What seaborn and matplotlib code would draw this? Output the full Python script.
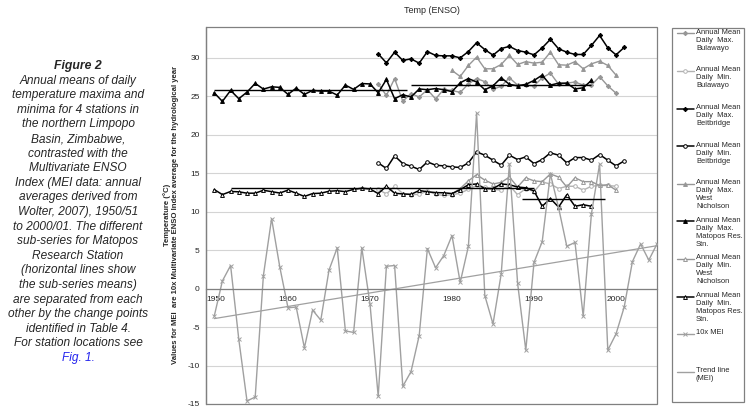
import numpy as np
import pandas as pd
import matplotlib
matplotlib.use("Agg")
import matplotlib.pyplot as plt
from matplotlib.lines import Line2D
from matplotlib.patches import Rectangle
import seaborn as sns

# values
mei_years = list(range(1951, 2006))
mei = [-3.6, 1.0, 3.0, -6.6, -14.6, -14.1, 1.7, 9.1, 2.8, -2.5,
       -2.4, -7.7, -2.8, -4.1, 2.4, 5.3, -5.5, -5.7, 5.3, -2.0,
       -14.0, 2.9, 3.0, -12.7, -10.8, -6.1, 5.2, 2.7, 4.3, 6.9,
       0.8, 5.5, 22.8, -0.9, -4.6, 1.9, 16.2, 0.7, -8.0, 3.4,
       6.1, 14.9, 10.5, 5.5, 6.0, -3.6, 9.7, 16.2, -8.0, -5.9,
       -2.4, 3.5, 5.8, 3.7, 5.8]

matopos_years = list(range(1951, 1998))
matopos_max = [25.45, 24.33, 25.76, 24.68, 25.54, 26.67, 25.93, 26.23, 26.15, 25.24,
               26.06, 25.24, 25.76, 25.67, 25.67, 25.15, 26.45, 25.89, 26.65, 26.6,
               25.45, 27.18, 24.68, 25.2, 24.9, 25.95, 25.85, 26.0, 25.85, 25.6,
               26.75, 27.3, 26.85, 25.85, 26.35, 27.4, 26.55, 26.35, 26.55, 27.05,
               27.75, 26.45, 26.7, 26.7, 25.95, 26.1, 27.05]
matopos_min = [12.87, 12.22, 12.62, 12.58, 12.4, 12.4, 12.78, 12.6, 12.42, 12.8,
               12.4, 11.98, 12.35, 12.4, 12.65, 12.72, 12.6, 12.9, 13.05, 12.95,
               12.35, 13.3, 12.4, 12.3, 12.25, 12.75, 12.58, 12.48, 12.45, 12.35,
               12.85, 13.5, 13.6, 13.0, 13.0, 13.6, 13.5, 13.2, 13.1, 12.7,
               10.7, 11.7, 10.6, 12.2, 10.7, 10.9, 10.7]

beit_years = list(range(1971, 2002))
beit_max = [30.51, 29.34, 30.73, 29.65, 29.86, 29.3, 30.81, 30.3, 30.25, 30.25,
            29.99, 30.81, 31.95, 31.07, 30.34, 31.2, 31.48, 30.94, 30.73, 30.38,
            31.29, 32.4, 31.16, 30.73, 30.43, 30.43, 31.6, 32.9, 31.29, 30.38, 31.35]
beit_min = [16.34, 15.61, 17.25, 16.25, 15.91, 15.48, 16.47, 16.04, 15.95, 15.82,
            15.74, 16.34, 17.77, 17.34, 16.69, 16.04, 17.34, 16.77, 17.12, 16.25,
            16.77, 17.64, 17.34, 16.34, 17.03, 17.03, 16.69, 17.42, 16.69, 15.95, 16.6]

bul_years = list(range(1971, 2001))
bul_max = [26.6, 25.1, 27.3, 24.35, 25.35, 24.9, 25.85, 24.65, 25.9, 25.75,
           25.5, 26.6, 27.3, 26.9, 25.9, 26.3, 27.4, 26.45, 26.4, 26.35,
           27.4, 28.0, 26.55, 26.7, 26.85, 26.45, 26.45, 27.55, 26.35, 25.4]
bul_min = [12.9, 12.3, 13.3, 12.35, 12.2, 12.25, 12.7, 12.25, 12.1, 12.2,
           12.4, 12.9, 13.4, 13.2, 12.9, 12.8, 13.4, 12.2, 13.0, 12.6,
           13.85, 13.6, 13.0, 13.3, 13.3, 12.8, 13.3, 13.4, 13.4, 13.3]

wn_years = list(range(1980, 2001))
wn_max = [28.35, 27.57, 29.0, 30.08, 28.57, 28.57, 29.13, 30.3, 29.13, 29.5,
          29.3, 29.43, 30.73, 29.09, 29.04, 29.5, 28.57, 29.21, 29.56, 29.0, 27.75]
wn_min = [12.3, 13.0, 14.0, 14.8, 14.1, 13.6, 13.8, 14.5, 13.2, 14.4,
          14.0, 13.9, 14.9, 14.5, 13.2, 14.4, 13.9, 13.9, 13.4, 13.5, 12.8]

# Matopos sub-series means (horizontal lines)
mean_start = [1951, 1975, 1953, 1988.5]
mean_end = [1974.5, 1997, 1990, 1998.6]
mean_value = [25.85, 26.5, 13.1, 11.6]

labels = ["Annual Mean\nDaily  Max.\nBulawayo",
          "Annual Mean\nDaily  Min.\nBulawayo",
          "Annual Mean\nDaily  Max.\nBeitbridge",
          "Annual Mean\nDaily  Min.\nBeitbridge",
          "Annual Mean\nDaily  Max.\nWest\nNicholson",
          "Annual Mean\nDaily  Max.\nMatopos Res.\nStn.",
          "Annual Mean\nDaily  Min.\nWest\nNicholson",
          "Annual Mean\nDaily  Min.\nMatopos Res.\nStn.",
          "10x MEI",
          "Trend line\n(MEI)"]

caption = ["Annual means of daily", "temperature maxima and",
           "minima for 4 stations in", "the northern Limpopo",
           "Basin, Zimbabwe,", "contrasted with the", "Multivariate ENSO",
           "Index (MEI data: annual", "averages derived from",
           "Wolter, 2007), 1950/51", "to 2000/01. The different",
           "sub-series for Matopos", "Research Station",
           "(horizontal lines show", "the sub-series means)",
           "are separated from each", "other by the change points",
           "identified in Table 4.", "For station locations see"]

sns.set_style("white")
plt.rcParams["font.family"] = ["Liberation Sans", "DejaVu Sans"]
plt.rcParams["axes.unicode_minus"] = False

W, H = 749, 412
fig = plt.figure(figsize=(W / 100, H / 100), dpi=100)


def fx(px):
    return px / W


def fy(py):
    return 1 - py / H


ax = fig.add_axes([fx(206), fy(404), fx(657) - fx(206), fy(27) - fy(404)])

GRAY = "#969696"
LGRAY = "#b2b2b2"
MGRAY = "#a0a0a0"

# (years, values, colour, marker, marker face)
series = [
    (bul_years, bul_max, GRAY, "D", GRAY),
    (bul_years, bul_min, LGRAY, "o", "white"),
    (beit_years, beit_max, "black", "D", "black"),
    (beit_years, beit_min, "black", "o", "white"),
    (wn_years, wn_max, GRAY, "^", GRAY),
    (matopos_years, matopos_max, "black", "^", "black"),
    (wn_years, wn_min, GRAY, "^", "white"),
    (matopos_years, matopos_min, "black", "^", "white"),
    (mei_years, mei, MGRAY, "x", MGRAY),
]


def marker_size(mk):
    return {"D": 2.2, "o": 2.6, "^": 2.8, "x": 3.0}[mk]


for yrs, vals, col, mk, face in series:
    sns.lineplot(x=yrs, y=vals, ax=ax, color=col, marker=mk,
                 markersize=marker_size(mk), markerfacecolor=face,
                 markeredgecolor=col, markeredgewidth=0.7,
                 linewidth=1.1 if col == "black" else 1.0, estimator=None,
                 sort=False)

sns.regplot(x=np.array(mei_years), y=np.array(mei), ax=ax, scatter=False,
            ci=None, truncate=True, line_kws=dict(color=MGRAY, lw=0.9))

ax.hlines(mean_value, mean_start, mean_end, colors="black", lw=1.0, zorder=5)

ax.set_xlim(1950, 2005)
ax.set_ylim(-15, 34)
ax.set_yticks(range(-15, 31, 5))
ax.set_xticks(range(1950, 2001, 10))
ax.set_xlabel("")
ax.set_ylabel("")
ax.yaxis.grid(True, color="#d4d4d4", lw=0.8)
ax.set_axisbelow(True)
ax.spines["top"].set_visible(False)
ax.spines["right"].set_visible(False)
ax.spines["bottom"].set_position(("data", 0))
for s in ["bottom", "left"]:
    ax.spines[s].set_color("#808080")
    ax.spines[s].set_linewidth(0.9)
ax.add_patch(Rectangle((0, 0), 1, 1, transform=ax.transAxes, fill=False,
                       ec="#808080", lw=0.9, clip_on=False))
ax.tick_params(axis="both", labelsize=6, length=2, color="#808080", pad=2.5)
ax.tick_params(axis="x", pad=3.5)
# Excel nudges the first year label inside the plot area
ax.get_xticklabels()[0].set_horizontalalignment("left")

ax.set_title("Temp (ENSO)", fontsize=6.5, pad=10)

# axis title (two lines)
fig.text(fx(171), fy(215), "Temperature (°C)\nValues for MEI  are 10x Multivariate ENSO Index "
         "average for the hydrological year", rotation=90, ha="center", va="center",
         multialignment="center", fontsize=5.6, fontweight="bold", linespacing=1.35)

# caption
fig.text(fx(78), fy(66), "Figure 2", ha="center", va="center", fontsize=8.8,
         fontweight="bold", style="italic")
for i, line in enumerate(caption):
    fig.text(fx(78), fy(66 + 14.6 * (i + 1)), line, ha="center", va="center",
             fontsize=8.6, style="italic")
fig.text(fx(78), fy(66 + 14.6 * 20), "Fig. 1.", ha="center", va="center",
         fontsize=8.6, style="italic", color="#2222ee")

# legend box drawn Excel-style (marker on first text line)
fig.add_artist(Rectangle((fx(671.7), fy(401.7)), fx(744) - fx(671.7),
                         fy(28) - fy(401.7), transform=fig.transFigure,
                         fill=False, ec="#808080", lw=0.9))
legend_styles = [(c, m, f) for _, _, c, m, f in series] + [(MGRAY, None, None)]
for i, (lab, (col, mk, face)) in enumerate(zip(labels, legend_styles)):
    yc = 33.3 + 37.6 * i
    fig.add_artist(Line2D([fx(676.5), fx(693.5)], [fy(yc), fy(yc)],
                          transform=fig.transFigure, color=col,
                          lw=1.1 if col == "black" else 1.0))
    if mk is not None:
        fig.add_artist(Line2D([fx(685)], [fy(yc)], transform=fig.transFigure,
                              marker=mk, markersize=marker_size(mk),
                              markerfacecolor=face, markeredgecolor=col,
                              markeredgewidth=0.7, lw=0))
    fig.text(fx(696), fy(yc - 4.6), lab, ha="left", va="top", fontsize=5.4,
             linespacing=1.2)

fig.savefig("out.png", dpi=100)
